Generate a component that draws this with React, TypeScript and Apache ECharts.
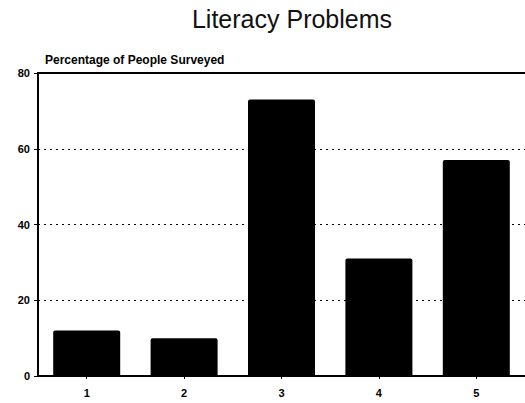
import React, { useEffect, useRef } from "react";
import * as echarts from "echarts";

const categories = ["1", "2", "3", "4", "5"];
const values = [12, 10, 73, 31, 57];
const yTicks = [0, 20, 40, 60, 80];

export default function App() {
  const ref = useRef<HTMLDivElement>(null);
  useEffect(() => {
    if (!ref.current) return;
    const chart = echarts.init(ref.current, null, { renderer: "svg" });
    chart.setOption({
      animation: false,
      backgroundColor: "#ffffff",
      title: [
        {
          text: "Literacy Problems",
          left: 287,
          top: 1,
          textAlign: "center",
          textStyle: { fontFamily: "Liberation Sans", fontSize: 25, fontWeight: "normal", color: "#111" },
        },
        {
          text: "Percentage of People Surveyed",
          left: 40,
          top: 49,
          textStyle: { fontFamily: "Liberation Sans", fontSize: 12, fontWeight: "bold", color: "#000" },
        },
      ],
      grid: { left: 38, top: 73, right: -6, bottom: 27, containLabel: false },
      xAxis: [
        {
          type: "category",
          data: categories,
          axisLine: { show: true, lineStyle: { color: "#000", width: 2 } },
          axisTick: { show: true, alignWithLabel: true, length: 3, lineStyle: { color: "#000" } },
          axisLabel: { fontFamily: "Liberation Sans", fontSize: 11, fontWeight: "bold", color: "#000", margin: 11 },
        },
        {
          type: "category",
          data: categories,
          position: "top",
          axisLine: { show: true, lineStyle: { color: "#000", width: 2 } },
          axisTick: { show: false },
          axisLabel: { show: false },
        },
      ],
      yAxis: {
        type: "value",
        min: yTicks[0],
        max: yTicks[yTicks.length - 1],
        interval: 20,
        axisLine: { show: true, lineStyle: { color: "#000", width: 2 } },
        axisTick: { show: true, length: 4, lineStyle: { color: "#000" } },
        axisLabel: { fontFamily: "Liberation Sans", fontSize: 11, fontWeight: "bold", color: "#000", margin: 8 },
        splitLine: {
          show: true,
          lineStyle: { color: "#000", type: [2, 4], width: 1 },
        },
      },
      series: [
        {
          type: "bar",
          data: values,
          barWidth: 67,
          itemStyle: { color: "#000", borderRadius: [2, 2, 0, 0] },
        },
      ],
    });
    return () => chart.dispose();
  }, []);
  return <div ref={ref} style={{ width: 525, height: 403, position: "absolute", left: 0, top: 0 }} />;
}
